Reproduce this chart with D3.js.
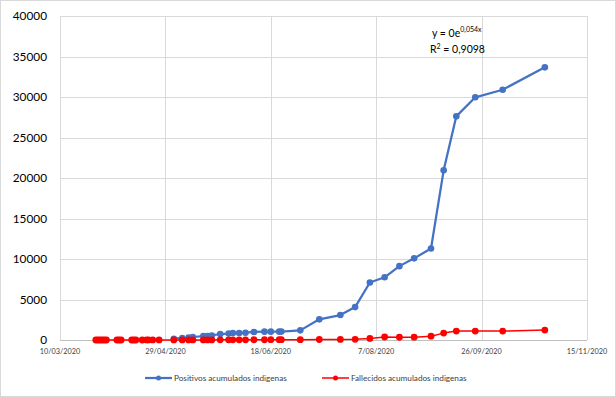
<!DOCTYPE html>
<html>
<head>
<meta charset="utf-8">
<script src="https://cdn.jsdelivr.net/npm/d3@7"></script>
<style>
  body { margin: 0; background: #fff; }
  svg { display: block; font-family: Lato, "Open Sans", sans-serif; }
</style>
</head>
<body>
<svg id="chart" width="616" height="397"></svg>
<script>
// fechas (dd/mm/yyyy) de los puntos
let fechas = [
  "27/03/2020", "28/03/2020", "29/03/2020", "30/03/2020", "31/03/2020", "01/04/2020",
  "06/04/2020", "07/04/2020", "08/04/2020",
  "13/04/2020", "14/04/2020", "15/04/2020",
  "18/04/2020", "20/04/2020", "21/04/2020", "23/04/2020", "26/04/2020",
  "03/05/2020", "07/05/2020", "10/05/2020", "12/05/2020", "17/05/2020", "19/05/2020",
  "21/05/2020", "25/05/2020", "29/05/2020", "31/05/2020", "03/06/2020", "06/06/2020",
  "10/06/2020", "15/06/2020", "18/06/2020", "22/06/2020", "23/06/2020", "02/07/2020",
  "11/07/2020", "21/07/2020", "28/07/2020", "04/08/2020", "11/08/2020", "18/08/2020",
  "25/08/2020", "02/09/2020", "08/09/2020", "14/09/2020", "23/09/2020", "06/10/2020",
  "26/10/2020"
]

// null = sin dato
let positivos = [
  null, null, null, null, null, null,
  null, null, null,
  null, null, null,
  null, null, null, null, null,
  160, 250, 300, 370, 490, 500,
  560, 740, 800, 860, 860, 900,
  990, 1030, 1030, 1030, 1040, 1190,
  2550, 3080, 4060, 7100, 7740, 9120,
  10080, 11290, 20950, 27610, 29960, 30900,
  33660
]

let fallecidos = [
  0, 0, 0, 1, 1, 1,
  1, 2, 2,
  2, 3, 3,
  3, 4, 4, 5, 5,
  6, 7, 8, 9, 11, 12,
  14, 17, 20, 21, 23, 25,
  28, 32, 34, 38, 39, 45,
  60, 70, 85, 190, 370, 340,
  350, 470, 850, 1100, 1100, 1100,
  1220
]

let yTicks = [0, 5000, 10000, 15000, 20000, 25000, 30000, 35000, 40000]
let xTicks = ["10/03/2020", "29/04/2020", "18/06/2020", "7/08/2020", "26/09/2020", "15/11/2020"]

let series = [
  { name: "Positivos acumulados indigenas", values: positivos, color: "#4472C4", width: 2.25, r: 3.3 },
  { name: "Fallecidos acumulados indigenas", values: fallecidos, color: "#FF0000", width: 1.5, r: 3.4 }
]

let parse = d3.utcParse("%d/%m/%Y")

let svg = d3.select("#chart")

// borde exterior
svg.append("rect")
  .attr("x", 0.5).attr("y", 0.5)
  .attr("width", 615).attr("height", 396)
  .attr("fill", "#fff")
  .attr("stroke", "#d9d9d9")

let plotLeft = 60, plotRight = 587, plotTop = 16, plotBottom = 340

let xScale = d3.scaleUtc([parse(xTicks[0]), parse(xTicks[xTicks.length - 1])], [plotLeft, plotRight])
let yScale = d3.scaleLinear([0, 40000], [plotBottom, plotTop])

// rejilla horizontal
svg.append("g")
  .selectAll("line")
  .data(yTicks)
  .enter()
  .append("line")
  .attr("x1", plotLeft).attr("x2", plotRight)
  .attr("y1", d => Math.round(yScale(d)) + 0.5)
  .attr("y2", d => Math.round(yScale(d)) + 0.5)
  .attr("stroke", "#d9d9d9")

// rejilla vertical
svg.append("g")
  .selectAll("line")
  .data(xTicks)
  .enter()
  .append("line")
  .attr("x1", d => Math.round(xScale(parse(d))) + 0.5)
  .attr("x2", d => Math.round(xScale(parse(d))) + 0.5)
  .attr("y1", plotTop).attr("y2", plotBottom)
  .attr("stroke", "#d9d9d9")

// eje x (línea base)
svg.append("line")
  .attr("x1", plotLeft).attr("x2", plotRight)
  .attr("y1", Math.round(yScale(0)) + 0.5).attr("y2", Math.round(yScale(0)) + 0.5)
  .attr("stroke", "#bfbfbf")

// etiquetas eje y
svg.append("g")
  .selectAll("text")
  .data(yTicks)
  .enter()
  .append("text")
  .attr("x", 47)
  .attr("y", d => yScale(d) + 4)
  .attr("text-anchor", "end")
  .attr("font-size", 11.8)
  .attr("fill", "#000")
  .text(d => d)

// etiquetas eje x
svg.append("g")
  .selectAll("text")
  .data(xTicks)
  .enter()
  .append("text")
  .attr("x", d => xScale(parse(d)))
  .attr("y", 354)
  .attr("text-anchor", "middle")
  .attr("font-size", 7.3)
  .attr("fill", "#404040")
  .text(d => d)

// series
series.forEach(s => {
  let pts = fechas.map((f, i) => ({ date: parse(f), value: s.values[i] }))
    .filter(d => d.value !== null)

  let line = d3.line()
    .x(d => xScale(d.date))
    .y(d => yScale(d.value))

  svg.append("path")
    .datum(pts)
    .attr("d", line)
    .attr("fill", "none")
    .attr("stroke", s.color)
    .attr("stroke-width", s.width)
    .attr("stroke-linejoin", "round")

  svg.append("g")
    .selectAll("circle")
    .data(pts)
    .enter()
    .append("circle")
    .attr("cx", d => xScale(d.date))
    .attr("cy", d => yScale(d.value))
    .attr("r", s.r)
    .attr("fill", s.color)
})

// ecuación de la línea de tendencia
let eq = svg.append("text")
  .attr("x", 432)
  .attr("y", 37)
  .attr("font-size", 10.5)
  .attr("fill", "#000")
eq.append("tspan").text("y = 0e")
eq.append("tspan").attr("dy", -5).attr("font-size", 7).text("0,054x")

let r2 = svg.append("text")
  .attr("x", 430)
  .attr("y", 53)
  .attr("font-size", 10.5)
  .attr("fill", "#000")
r2.append("tspan").text("R")
r2.append("tspan").attr("dy", -4).attr("font-size", 7).text("2")
r2.append("tspan").attr("dy", 4).text(" = 0,9098")

// leyenda
let legendPos = [145, 322]
series.forEach((s, i) => {
  let g = svg.append("g").attr("transform", `translate(${legendPos[i]},378)`)
  g.append("line")
    .attr("x1", 0).attr("x2", 27)
    .attr("y1", 0).attr("y2", 0)
    .attr("stroke", s.color)
    .attr("stroke-width", s.width)
  g.append("circle")
    .attr("cx", 13.5).attr("cy", 0)
    .attr("r", 2.5)
    .attr("fill", s.color)
  g.append("text")
    .attr("x", 29)
    .attr("y", 3)
    .attr("font-size", 8.2)
    .attr("fill", "#404040")
    .text(s.name)
})
</script>
</body>
</html>
